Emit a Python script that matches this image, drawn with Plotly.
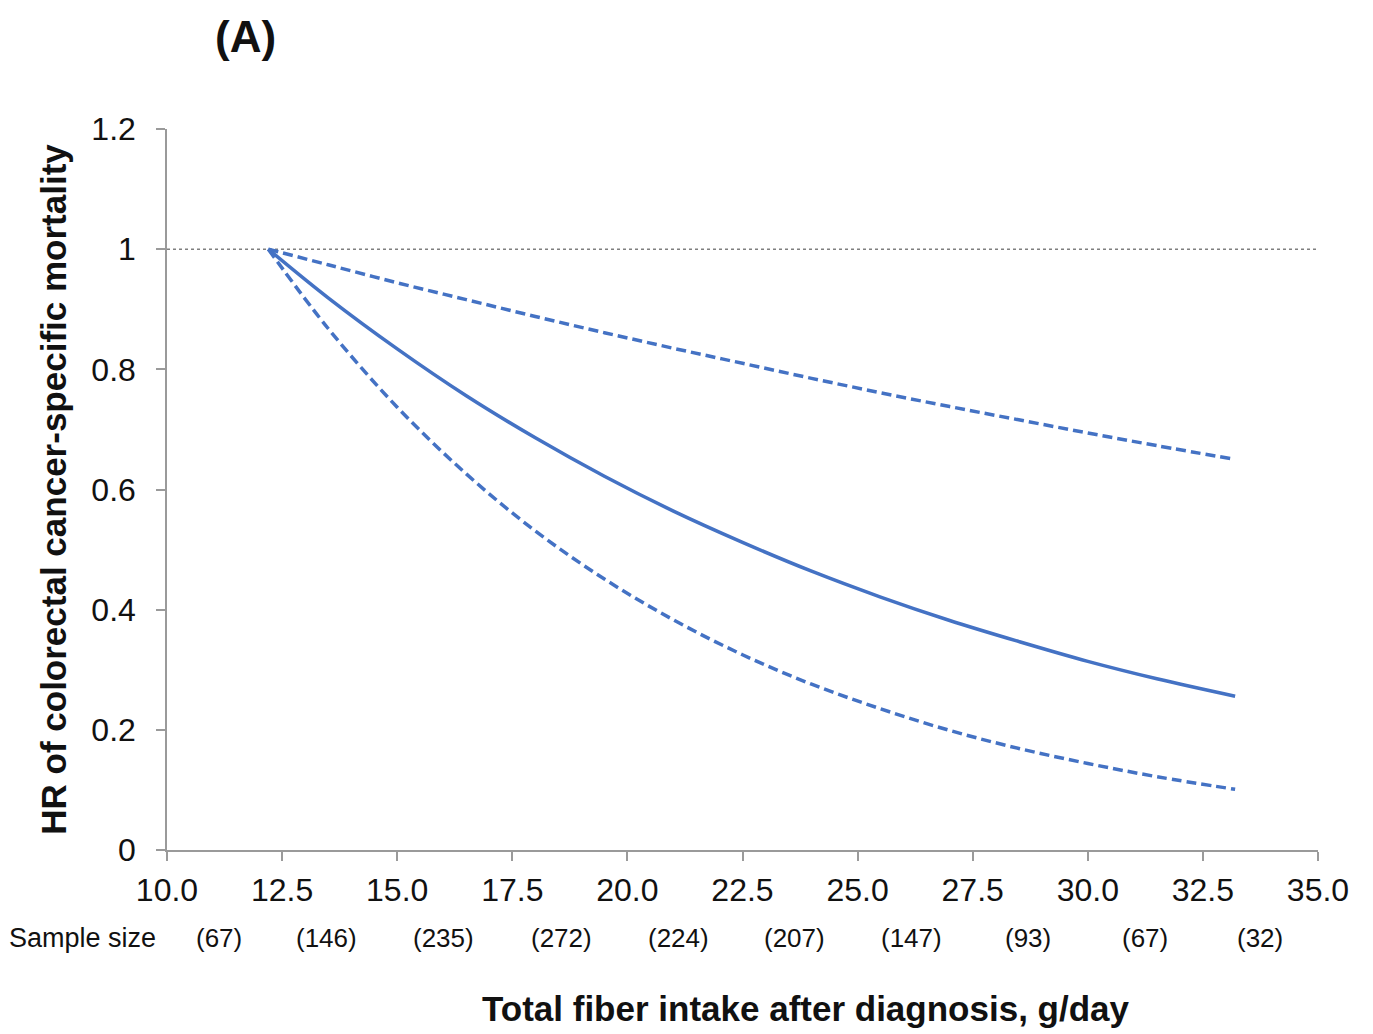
import plotly.graph_objects as go

# ---- data ----
fiber_x = [12.2, 13.5, 15.0, 16.5, 18.0, 19.5, 21.0, 22.5, 24.0, 25.5, 27.0, 28.5, 30.0, 31.5, 33.2]
hr_point = [1.0, 0.919, 0.834, 0.756, 0.686, 0.622, 0.564, 0.512, 0.464, 0.421, 0.382, 0.347, 0.314, 0.285, 0.256]
hr_upper = [1.0, 0.974, 0.944, 0.916, 0.888, 0.861, 0.835, 0.810, 0.785, 0.761, 0.738, 0.716, 0.694, 0.673, 0.650]
hr_lower = [1.0, 0.868, 0.737, 0.626, 0.531, 0.451, 0.383, 0.325, 0.276, 0.235, 0.199, 0.169, 0.144, 0.122, 0.101]

x_ticks = [10.0, 12.5, 15.0, 17.5, 20.0, 22.5, 25.0, 27.5, 30.0, 32.5, 35.0]
x_tick_labels = ["10.0", "12.5", "15.0", "17.5", "20.0", "22.5", "25.0", "27.5", "30.0", "32.5", "35.0"]
y_ticks = [0, 0.2, 0.4, 0.6, 0.8, 1.0, 1.2]
y_tick_labels = ["0", "0.2", "0.4", "0.6", "0.8", "1", "1.2"]

sample_sizes = ["(67)", "(146)", "(235)", "(272)", "(224)", "(207)", "(147)", "(93)", "(67)", "(32)"]
sample_label_x = [11.13, 13.47, 16.01, 18.56, 21.1, 23.64, 26.18, 28.7, 31.24, 33.75]
reference_hr = 1.0

BLUE = "#4472C4"
FONT = "Liberation Sans, Arial, sans-serif"

# figure size (page body adds an 8px offset)
W, H = 1365, 1026
ML, MR, MT, MB = 159, 55, 121, 184
PW, PH = W - ML - MR, H - MT - MB

fig = go.Figure()
fig.add_trace(go.Scatter(x=fiber_x, y=hr_upper, mode="lines", line=dict(color=BLUE, width=3.5, dash="10px,5px", shape="spline"), showlegend=False))
fig.add_trace(go.Scatter(x=fiber_x, y=hr_point, mode="lines", line=dict(color=BLUE, width=3.5, shape="spline"), showlegend=False))
fig.add_trace(go.Scatter(x=fiber_x, y=hr_lower, mode="lines", line=dict(color=BLUE, width=3.5, dash="10px,5px", shape="spline"), showlegend=False))

fig.add_hline(y=reference_hr, line=dict(color="#7f7f7f", width=1.5, dash="dot"), layer="below")

annotations = []
for lbl, xv in zip(sample_sizes, sample_label_x):
    annotations.append(dict(x=xv, y=0, xref="x", yref="paper", text=lbl, showarrow=False,
                            xanchor="center", yanchor="middle", yshift=-88,
                            font=dict(family=FONT, size=26, color="#111111")))
annotations.append(dict(x=0, y=0, xref="paper", yref="paper", text="Sample size", showarrow=False,
                        xanchor="right", yanchor="middle", xshift=-9, yshift=-88,
                        font=dict(family=FONT, size=27, color="#111111")))
annotations.append(dict(x=(245 - 167) / PW, y=1 + (129 - 36) / PH, xref="paper", yref="paper",
                        text="<b>(A)</b>", showarrow=False, xanchor="center", yanchor="middle",
                        font=dict(family=FONT, size=44, color="#111111")))
# x-axis title (offset to the right of the plot centre, as in the reference)
annotations.append(dict(x=(806 - 167) / PW, y=0, xref="paper", yref="paper",
                        text="<b>Total fiber intake after diagnosis, g/day</b>", showarrow=False,
                        xanchor="center", yanchor="middle", yshift=-158,
                        font=dict(family=FONT, size=35, color="#111111")))

fig.update_layout(
    width=W, height=H,
    margin=dict(l=ML, r=MR, t=MT, b=MB),
    paper_bgcolor="white", plot_bgcolor="white",
    font=dict(family=FONT, color="#111111"),
    annotations=annotations,
    xaxis=dict(range=[10, 35], tickvals=x_ticks, ticktext=x_tick_labels,
               showgrid=False, zeroline=False, showline=True, linecolor="#9a9a9a", linewidth=1.5,
               ticks="outside", ticklen=9, tickcolor="#9a9a9a", tickwidth=1.5,
               tickfont=dict(family=FONT, size=32, color="#111111"), ticklabelstandoff=2),
    yaxis=dict(range=[0, 1.2], tickvals=y_ticks, ticktext=y_tick_labels,
               showgrid=False, zeroline=False, showline=True, linecolor="#9a9a9a", linewidth=1.5,
               ticks="outside", ticklen=9, tickcolor="#9a9a9a", tickwidth=1.5,
               tickfont=dict(family=FONT, size=32, color="#111111"), ticklabelstandoff=14,
               title=dict(text="<b>HR of colorectal cancer-specific mortality</b>", standoff=14,
                          font=dict(family=FONT, size=35, color="#111111"))),
)

fig.write_html("out.html")
